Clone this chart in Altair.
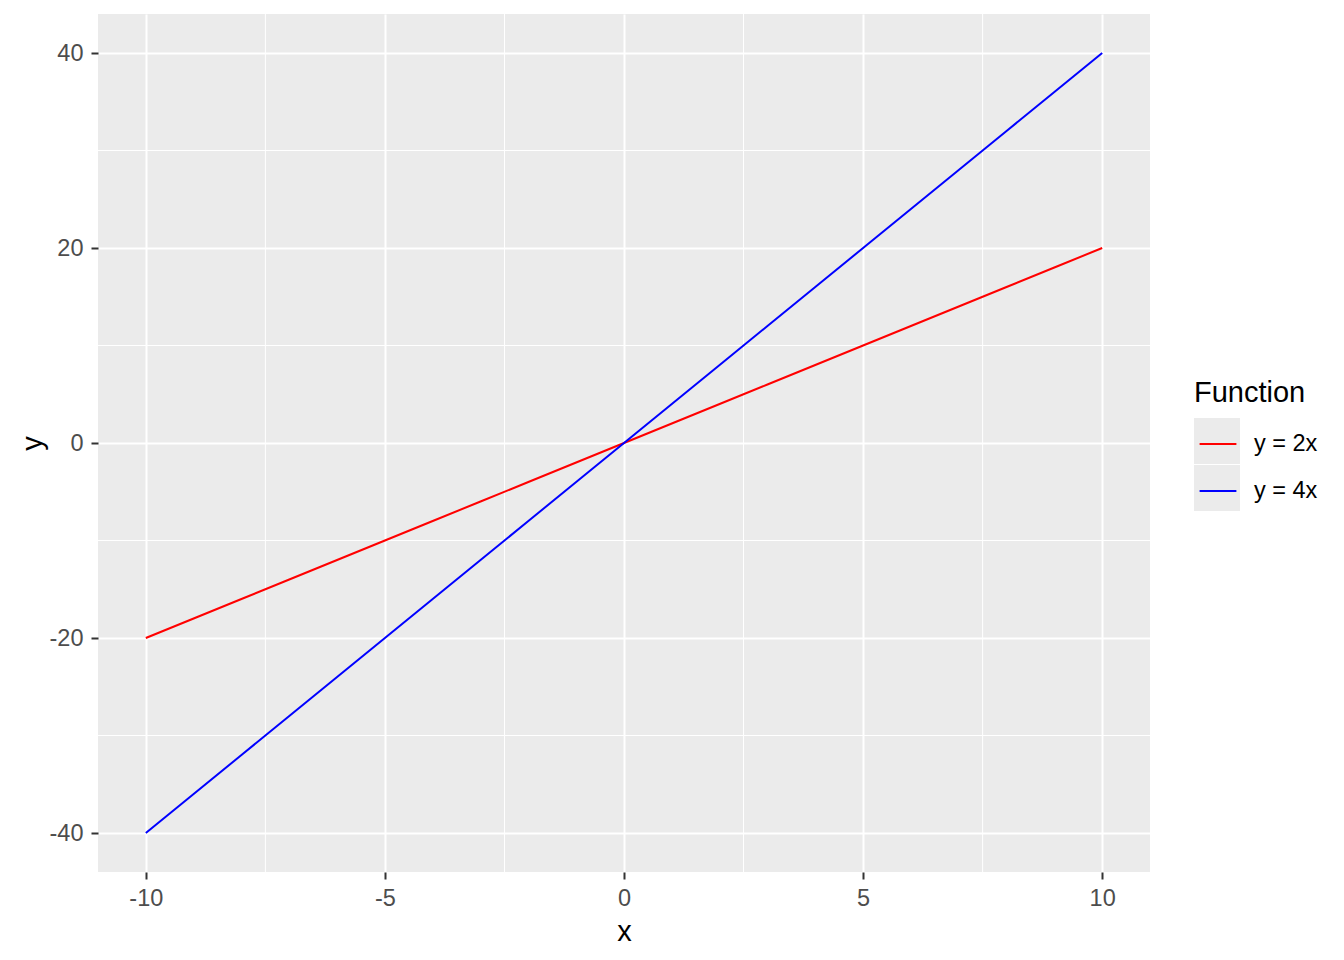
import altair as alt
import pandas as pd

x_vals = [-10, -9, -8, -7, -6, -5, -4, -3, -2, -1, 0, 1, 2, 3, 4, 5, 6, 7, 8, 9, 10]
y_2x = [-20, -18, -16, -14, -12, -10, -8, -6, -4, -2, 0, 2, 4, 6, 8, 10, 12, 14, 16, 18, 20]
y_4x = [-40, -36, -32, -28, -24, -20, -16, -12, -8, -4, 0, 4, 8, 12, 16, 20, 24, 28, 32, 36, 40]
series = ["y = 2x", "y = 4x"]
key_ids = ["key 1", "key 2"]
colors = ["red", "blue"]
x_major = [-10, -5, 0, 5, 10]
y_major = [-40, -20, 0, 20, 40]
x_minor = [-7.5, -2.5, 2.5, 7.5]
y_minor = [-30, -10, 10, 30]

rows = []
for xv, a, b in zip(x_vals, y_2x, y_4x):
    rows.append({"x": xv, "y": a, "Function": series[0], "Key": key_ids[0]})
    rows.append({"x": xv, "y": b, "Function": series[1], "Key": key_ids[1]})
df = pd.DataFrame(rows)

FONT = "Liberation Sans"
xs = alt.Scale(domain=[-11, 11], nice=False, zero=False)
ys = alt.Scale(domain=[-44, 44], nice=False, zero=False)
LX, LY = 1096, 365

minor_x = alt.Chart(pd.DataFrame({"v": x_minor})).mark_rule(color="white", strokeWidth=1).encode(
    x=alt.X("v:Q", scale=xs))
minor_y = alt.Chart(pd.DataFrame({"v": y_minor})).mark_rule(color="white", strokeWidth=1).encode(
    y=alt.Y("v:Q", scale=ys))

# invisible layer only used to draw grey legend-key backgrounds
keys = alt.Chart(df).mark_point(opacity=0, filled=True).encode(
    x=alt.X("x:Q", scale=xs),
    y=alt.Y("y:Q", scale=ys),
    fill=alt.Fill("Key:N", scale=alt.Scale(domain=key_ids, range=["#EBEBEB", "#EBEBEB"]),
                  legend=alt.Legend(title="Function", orient="none", legendX=LX, legendY=LY,
                                    symbolType="square", symbolSize=2116, symbolOpacity=1,
                                    symbolStrokeWidth=0,
                                    rowPadding=1, titlePadding=10, labelOffset=14,
                                    labelExpr="''",
                                    titleColor="transparent", labelColor="transparent")),
)

lines = alt.Chart(df).mark_line(strokeWidth=2).encode(
    x=alt.X("x:Q", scale=xs, title="x",
            axis=alt.Axis(values=x_major, labelExpr="'' + datum.value")),
    y=alt.Y("y:Q", scale=ys, title="y",
            axis=alt.Axis(values=y_major, labelExpr="'' + datum.value")),
    stroke=alt.Stroke("Function:N", scale=alt.Scale(domain=series, range=colors),
                      legend=alt.Legend(title="Function", orient="none", legendX=LX, legendY=LY,
                                        symbolType="M-0.8,0L0.8,0", symbolSize=2116,
                                        symbolStrokeWidth=2, symbolFillColor="transparent",
                                        rowPadding=11, titlePadding=12, labelOffset=12)),
)

chart = alt.layer(minor_x, minor_y, keys, lines).properties(
    width=1052, height=858,
    padding={"left": 90, "top": 6, "right": 186, "bottom": 80},
    autosize=alt.AutoSizeParams(type="none"),
).configure_view(fill="#EBEBEB", stroke=None).configure_axis(
    grid=True, gridColor="white", gridWidth=2, domain=False,
    tickColor="#333333", tickWidth=2, tickSize=7,
    labelFont=FONT, labelFontSize=23.5, labelColor="#4D4D4D",
    titleFont=FONT, titleFontSize=29, titleColor="black", titleFontWeight="normal",
).configure_axisX(labelPadding=7, titlePadding=8).configure_axisY(titlePadding=2, labelPadding=8).configure_legend(
    titleFont=FONT, titleFontSize=29, titleFontWeight="normal", titleColor="black",
    labelFont=FONT, labelFontSize=23.5, labelColor="black",
)

chart.save("out.html", embed_options={"renderer": "svg", "actions": False})
